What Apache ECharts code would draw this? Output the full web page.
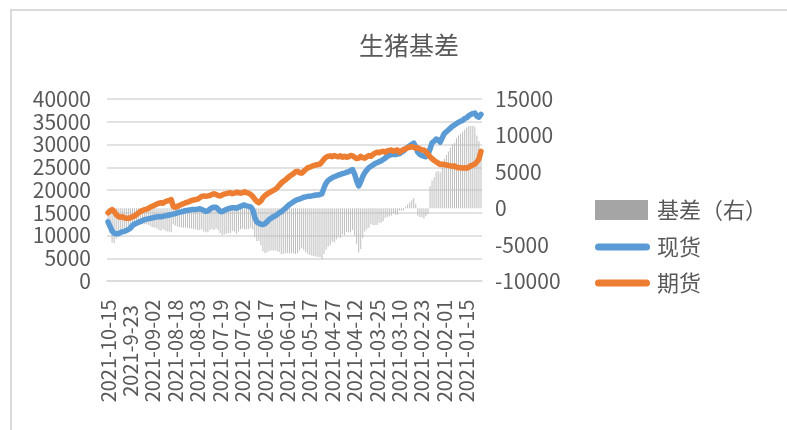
<!DOCTYPE html>
<html lang="zh">
  <head>
    <meta charset="UTF-8" />
    <title>生猪基差</title>
    <script src="https://cdn.jsdelivr.net/npm/echarts@6/dist/echarts.min.js"></script>
    <style>
      * {
        padding: 0;
        margin: 0;
      }
      body {
        background: #fff;
        overflow: hidden;
      }
      #frame {
        position: absolute;
        left: 10px;
        top: 9px;
        width: 800px;
        height: 440px;
        border: 2px solid #dadada;
      }
      #main {
        position: absolute;
        left: 0;
        top: 0;
        width: 787px;
        height: 430px;
      }
    </style>
  </head>
  <body>
    <div id="frame"></div>
    <div id="main"></div>
    <script>
      // trading days, newest first
      var months = [
        ["2021-10", [15, 14, 13, 12, 11, 8]],
        ["2021-09", [30, 29, 28, 27, 24, 23, 22, 16, 15, 14, 13, 9, 8, 7, 6, 3, 2, 1]],
        ["2021-08", [31, 30, 27, 26, 25, 24, 23, 20, 19, 18, 17, 16, 13, 12, 11, 10, 9, 6, 5, 4, 3, 2]],
        ["2021-07", [30, 29, 28, 27, 26, 23, 22, 21, 20, 19, 16, 15, 14, 13, 12, 9, 8, 7, 6, 5, 2, 1]],
        ["2021-06", [30, 29, 28, 25, 24, 23, 22, 21, 18, 17, 16, 15, 11, 10, 9, 8, 7, 4, 3, 2, 1]],
        ["2021-05", [31, 28, 27, 26, 25, 24, 21, 20, 19, 18, 17, 14, 13, 12, 11, 10, 7, 6]],
        ["2021-04", [30, 29, 28, 27, 26, 23, 22, 21, 20, 19, 16, 15, 14, 13, 12, 9, 8, 7, 6, 2, 1]],
        ["2021-03", [31, 30, 29, 26, 25, 24, 23, 22, 19, 18, 17, 16, 15, 12, 11, 10, 9, 8, 5, 4, 3, 2, 1]],
        ["2021-02", [26, 25, 24, 23, 22, 19, 18, 10, 9, 8, 5, 4, 3, 2, 1]],
        ["2021-01", [29, 28, 27, 26, 25, 22, 21, 20, 19, 18, 15, 14, 13, 12, 11, 8, 7, 6]],
      ];
      var labelText = { "2021-09-23": "2021-9-23" };

      // 现货
      var spot = [
        13000, 12000, 11000, 10500, 10400, 10400, 10600, 10800, 10900, 11100,
        11300, 11600, 12200, 12500, 12700, 12900, 13100, 13300, 13500, 13600,
        13700, 13800, 13900, 14000, 14100, 14100, 14100, 14200, 14300, 14400,
        14500, 14600, 14700, 14800, 15000, 15100, 15200, 15300, 15500, 15500,
        15600, 15700, 15700, 15700, 15800, 15900, 15700, 15500, 15300, 15400,
        15800, 16100, 16200, 16200, 15800, 15300, 15200, 15500, 15700, 15900,
        16000, 16100, 16100, 16000, 16200, 16400, 16600, 16700, 16500, 16400,
        16300, 15700, 14000, 13000, 12700, 12500, 12400, 12600, 13000, 13500,
        13800, 14100, 14300, 14600, 15000, 15200, 15600, 16000, 16400, 16800,
        17100, 17400, 17700, 17900, 18000, 18200, 18400, 18500, 18600, 18600,
        18700, 18800, 18900, 18900, 19000, 19200, 20500, 21500, 22100, 22400,
        22700, 22900, 23100, 23300, 23400, 23600, 23700, 23900, 24000, 24300,
        24500, 23500, 22000, 20900, 21800, 23000, 23800, 24400, 24900, 25200,
        25500, 25800, 26000, 26200, 26400, 26700, 27000, 27400, 27600, 27800,
        27800, 27800, 27900, 28000, 28300, 28600, 29000, 29400, 29700, 30000,
        30300, 29500, 28300, 27800, 27600, 27400, 27300, 27800, 29000, 30400,
        30700, 31200, 31000, 30500, 31500, 32400, 32800, 33200, 33600, 34000,
        34300, 34600, 34900, 35100, 35300, 35700, 35900, 36300, 36600, 36800,
        36900, 36200, 36000, 36600,
      ];

      // 期货
      var futures = [
        15000, 15400, 15700, 15300, 14600, 14200, 14000, 14100, 13900, 13800,
        13800, 13900, 14100, 14300, 14600, 15000, 15300, 15500, 15700, 15800,
        16000, 16300, 16500, 16700, 16900, 17100, 17200, 17100, 17400, 17600,
        17700, 17900, 16400, 16200, 16400, 16600, 16800, 17000, 17200, 17300,
        17500, 17700, 17800, 17900, 18000, 18300, 18600, 18700, 18600, 18700,
        18800, 19000, 19200, 19000, 18800, 18700, 18900, 19100, 19200, 19300,
        19400, 19200, 19300, 19500, 19400, 19300, 19400, 19600, 19400, 19300,
        19000, 18600, 18000, 17500, 17200, 17600, 18300, 18800, 19100, 19400,
        19600, 19900, 20100, 20500, 21000, 21500, 21900, 22200, 22600, 23000,
        23300, 23600, 24000, 24100, 23800, 23700, 24100, 24500, 24900, 25000,
        25200, 25400, 25500, 25600, 25700, 26200, 26800, 27200, 27400, 27500,
        27300, 27600, 27400, 27300, 27500, 27200, 27400, 27200, 27300, 27600,
        27500, 27200, 26900, 27000, 27400, 27100, 27000, 27300, 27600, 27400,
        27800, 28100, 28300, 28200, 28400, 28500, 28300, 28600, 28700, 28800,
        28500, 28700, 28800, 28300, 28600, 28900, 29000, 29300, 29400, 29500,
        29400, 29200, 29300, 29000, 28800, 28800, 28400, 27900, 27300, 26900,
        26500, 26200, 25900, 25600, 25700, 25600, 25500, 25400, 25300, 25200,
        25300, 25000, 24900, 24900, 24800, 24900, 24800, 25000, 25300, 25500,
        25700, 26200, 26800, 28500,
      ];

      // 基差（右）
      var basis = [
        -2000, -3400, -4700, -4800, -4200, -3800, -3400, -3300, -3000, -2700,
        -2500, -2300, -1900, -1800, -1900, -2100, -2200, -2200, -2200, -2200,
        -2300, -2500, -2600, -2700, -2800, -3000, -3100, -2900, -3100, -3200,
        -3200, -3300, -2200, -2400, -2500, -2600, -2600, -2700, -2600, -2700,
        -2800, -2800, -2900, -2900, -3000, -3000, -2900, -3200, -3300, -3300,
        -3000, -2900, -3000, -2800, -3000, -3400, -3700, -3600, -3500, -3400,
        -3400, -3100, -3200, -3500, -3200, -2900, -2800, -2900, -2900, -2900,
        -2700, -2900, -4000, -4500, -4500, -5100, -5900, -6200, -6100, -5900,
        -5800, -5800, -5800, -5900, -6000, -6300, -6300, -6200, -6200, -6200,
        -6200, -6200, -6300, -6200, -5800, -5500, -5700, -6000, -6300, -6400,
        -6500, -6600, -6600, -6700, -6700, -7000, -6300, -5700, -5300, -5100,
        -4600, -4700, -4300, -4000, -4100, -3600, -3700, -3300, -3300, -3300,
        -3000, -3700, -4900, -6100, -5600, -4100, -3200, -2900, -2700, -2200,
        -2300, -2300, -2300, -2000, -2000, -1800, -1300, -1200, -1100, -1000,
        -700, -900, -900, -300, -300, -300, 200, 500, 800, 1100,
        1400, 600, -1000, -1200, -1200, -1400, -1100, -800, 3000, 3800,
        4200, 5000, 5100, 4900, 5800, 6800, 7300, 7800, 8300, 8800,
        9000, 9600, 10000, 10200, 10500, 10800, 11100, 11300, 11300, 11300,
        11200, 10000, 9200, 8100,
      ];

      var dates = [];
      months.forEach(function (m) {
        m[1].forEach(function (d) {
          dates.push(m[0] + "-" + (d < 10 ? "0" + d : d));
        });
      });

      var fontColor = "#595959";
      var fontFamily = "Noto Sans CJK SC";
      var linePath =
        "path://M3.5,0 L51.5,0 A3.5,3.5 0 0 1 51.5,7 L3.5,7 A3.5,3.5 0 0 1 3.5,0 Z";

      var myChart = echarts.init(document.getElementById("main"));
      var option = {
        backgroundColor: "transparent",
        animation: false,
        textStyle: { fontFamily: fontFamily },
        title: {
          text: "生猪基差",
          left: 404,
          top: 28,
          textAlign: "center",
          textStyle: {
            color: fontColor,
            fontSize: 25,
            fontWeight: "normal",
            fontFamily: fontFamily,
          },
        },
        legend: [
          {
            orient: "vertical",
            left: 590,
            top: 193,
            icon: "rect",
            itemWidth: 53,
            itemHeight: 20,
            data: [{ name: "基差（右）", itemStyle: { color: "#a5a5a5" } }],
            textStyle: {
              color: fontColor,
              fontSize: 22,
              lineHeight: 24,
              padding: [0, 0, 0, 4],
              fontFamily: fontFamily,
            },
          },
          {
            orient: "vertical",
            left: 590,
            top: 230,
            icon: linePath,
            itemWidth: 55,
            itemHeight: 7,
            itemGap: 12,
            data: ["现货", "期货"],
            textStyle: {
              color: fontColor,
              fontSize: 22,
              lineHeight: 24,
              padding: [0, 0, 0, 2],
              fontFamily: fontFamily,
            },
          },
        ],
        grid: {
          left: 107,
          right: 305,
          top: 99,
          bottom: 149,
          containLabel: false,
        },
        xAxis: {
          type: "category",
          data: dates,
          boundaryGap: true,
          axisLine: { show: true, lineStyle: { color: "#d9d9d9", width: 1.5 } },
          axisTick: { show: false },
          splitLine: { show: false },
          axisLabel: {
            interval: 10,
            rotate: 90,
            align: "center",
            verticalAlign: "middle",
            margin: 70,
            hideOverlap: false,
            color: fontColor,
            fontSize: 20,
            fontFamily: fontFamily,
            formatter: function (v) {
              return labelText[v] || v;
            },
          },
        },
        yAxis: [
          {
            type: "value",
            min: 0,
            max: 40000,
            interval: 5000,
            axisLine: { show: false },
            axisTick: { show: false },
            axisLabel: {
              color: fontColor,
              fontSize: 21,
              margin: 16,
              fontFamily: fontFamily,
              formatter: function (v) {
                return String(v);
              },
            },
            splitLine: {
              show: true,
              lineStyle: { color: "#d9d9d9", width: 1.5 },
            },
          },
          {
            type: "value",
            min: -10000,
            max: 15000,
            interval: 5000,
            axisLine: { show: false },
            axisTick: { show: false },
            axisLabel: {
              color: fontColor,
              fontSize: 21,
              margin: 13,
              fontFamily: fontFamily,
              formatter: function (v) {
                return String(v);
              },
            },
            splitLine: { show: false },
          },
        ],
        series: [
          {
            name: "基差（右）",
            type: "bar",
            yAxisIndex: 1,
            barWidth: 1,
            itemStyle: { color: "#bdbdbd" },
            z: 1,
            data: basis,
          },
          {
            name: "现货",
            type: "line",
            symbol: "none",
            itemStyle: { color: "#5b9bd5" },
            lineStyle: { color: "#5b9bd5", width: 5.5, join: "round", cap: "round" },
            z: 3,
            data: spot,
          },
          {
            name: "期货",
            type: "line",
            symbol: "none",
            itemStyle: { color: "#ed7d31" },
            lineStyle: { color: "#ed7d31", width: 5.5, join: "round", cap: "round" },
            z: 4,
            data: futures,
          },
        ],
      };
      myChart.setOption(option);
    </script>
  </body>
</html>
